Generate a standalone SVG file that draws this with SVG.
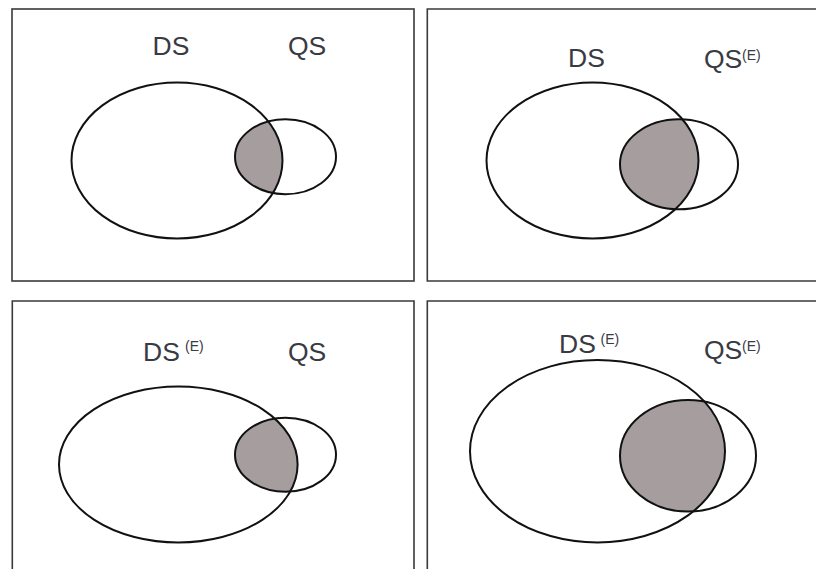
<svg xmlns="http://www.w3.org/2000/svg" width="816" height="569" viewBox="0 0 816 569">
<style>
.frame{fill:none;stroke:#3a3a3a;stroke-width:1.6}
.ell{fill:none;stroke:#111;stroke-width:2}
.shade{fill:#a59d9e}
.lbl{font-family:"Liberation Sans",Arial,sans-serif;font-size:26.5px;fill:#3a3a44}
.sup{font-family:"Liberation Sans",Arial,sans-serif;font-size:14px;fill:#3a3a44}
</style>
<defs>
<clipPath id="c1"><ellipse cx="177" cy="160.5" rx="105.5" ry="78"/></clipPath>
<clipPath id="c2"><ellipse cx="592.5" cy="160.5" rx="106" ry="78"/></clipPath>
<clipPath id="c3"><ellipse cx="178.3" cy="464.5" rx="119.3" ry="78"/></clipPath>
<clipPath id="c4"><ellipse cx="597.5" cy="451.2" rx="127.5" ry="91.2"/></clipPath>
</defs>
<rect fill="#fff" x="0" y="0" width="816" height="569"/>
<g id="panel1">
<rect class="frame" x="12" y="9" width="402" height="272"/>
<ellipse class="shade" clip-path="url(#c1)" cx="285.5" cy="156.7" rx="50.5" ry="37.5"/>
<ellipse class="ell" cx="177" cy="160.5" rx="105.5" ry="78"/>
<ellipse class="ell" cx="285.5" cy="156.7" rx="50.5" ry="37.5"/>
<text class="lbl" x="152.5" y="55">DS</text>
<text class="lbl" x="288" y="55">QS</text>
</g>
<g id="panel2">
<path class="frame" d="M816,9 H427.3 V281 H816"/>
<ellipse class="shade" clip-path="url(#c2)" cx="679" cy="164.3" rx="59" ry="45"/>
<ellipse class="ell" cx="592.5" cy="160.5" rx="106" ry="78"/>
<ellipse class="ell" cx="679" cy="164.3" rx="59" ry="45"/>
<text class="lbl" x="568" y="66.5">DS</text>
<text class="lbl" x="704" y="67.5">QS</text>
<text class="sup" x="742" y="60">(E)</text>
</g>
<g id="panel3">
<path class="frame" d="M12.3,569 V301 H414 V569"/>
<ellipse class="shade" clip-path="url(#c3)" cx="285.5" cy="454.7" rx="50.5" ry="37"/>
<ellipse class="ell" cx="178.3" cy="464.5" rx="119.3" ry="78"/>
<ellipse class="ell" cx="285.5" cy="454.7" rx="50.5" ry="37"/>
<text class="lbl" x="143" y="361">DS</text>
<text class="sup" x="185" y="351">(E)</text>
<text class="lbl" x="288" y="361">QS</text>
</g>
<g id="panel4">
<path class="frame" d="M427.3,569 V301 H816"/>
<ellipse class="shade" clip-path="url(#c4)" cx="688" cy="455.8" rx="68" ry="55.8"/>
<ellipse class="ell" cx="597.5" cy="451.2" rx="127.5" ry="91.2"/>
<ellipse class="ell" cx="688" cy="455.8" rx="68" ry="55.8"/>
<text class="lbl" x="559" y="353.3">DS</text>
<text class="sup" x="600.5" y="344">(E)</text>
<text class="lbl" x="704" y="359">QS</text>
<text class="sup" x="742" y="351">(E)</text>
</g>
<g id="connectors"/>
</svg>
